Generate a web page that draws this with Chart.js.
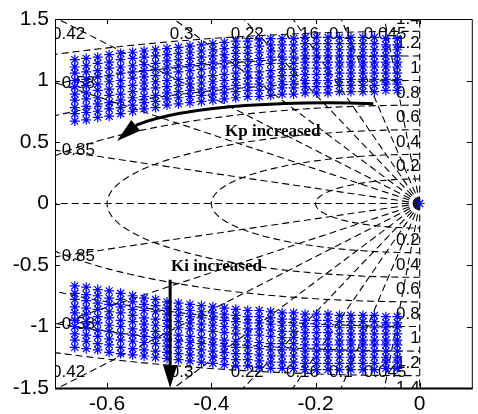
<!DOCTYPE html>
<html>
<head>
<meta charset="utf-8">
<script src="https://cdn.jsdelivr.net/npm/chart.js@4.4.1/dist/chart.umd.min.js"></script>
<style>
  html, body { margin: 0; padding: 0; background: #fff; }
  #c { display: block; }
</style>
</head>
<body>
<canvas id="c" width="478" height="414"></canvas>
<script>
// 闭环极点：每列对应一个 Kp，列内对应不同 Ki（只列上半平面，下半平面取共轭）
const colRe = [-0.662, -0.640, -0.618, -0.596, -0.574, -0.551, -0.529, -0.507, -0.485, -0.463,
               -0.441, -0.419, -0.397, -0.375, -0.353, -0.330, -0.308, -0.286, -0.264, -0.242,
               -0.220, -0.198, -0.176, -0.154, -0.132, -0.109, -0.087, -0.065, -0.043];
const colIm = [
    [0.67, 0.73, 0.78, 0.84, 0.89, 0.95, 1.00, 1.06, 1.11, 1.17],
    [0.68, 0.74, 0.79, 0.85, 0.90, 0.96, 1.01, 1.07, 1.12, 1.18],
    [0.70, 0.75, 0.81, 0.86, 0.92, 0.97, 1.03, 1.08, 1.14, 1.19],
    [0.71, 0.77, 0.82, 0.88, 0.93, 0.99, 1.04, 1.10, 1.15, 1.21],
    [0.73, 0.78, 0.84, 0.89, 0.95, 1.00, 1.06, 1.11, 1.17, 1.22],
    [0.75, 0.80, 0.86, 0.91, 0.96, 1.02, 1.07, 1.12, 1.18, 1.23],
    [0.77, 0.82, 0.87, 0.93, 0.98, 1.03, 1.08, 1.13, 1.19, 1.24],
    [0.78, 0.83, 0.88, 0.94, 0.99, 1.04, 1.09, 1.14, 1.20, 1.25],
    [0.80, 0.85, 0.90, 0.95, 1.00, 1.06, 1.11, 1.16, 1.21, 1.26],
    [0.81, 0.86, 0.91, 0.96, 1.01, 1.07, 1.12, 1.17, 1.22, 1.27],
    [0.82, 0.87, 0.92, 0.97, 1.02, 1.08, 1.13, 1.18, 1.23, 1.28],
    [0.83, 0.88, 0.93, 0.98, 1.03, 1.09, 1.14, 1.19, 1.24, 1.29],
    [0.84, 0.89, 0.94, 0.99, 1.04, 1.10, 1.15, 1.20, 1.25, 1.30],
    [0.85, 0.90, 0.95, 1.00, 1.05, 1.11, 1.16, 1.21, 1.26, 1.31],
    [0.86, 0.91, 0.96, 1.01, 1.06, 1.12, 1.17, 1.22, 1.27, 1.32],
    [0.87, 0.92, 0.97, 1.02, 1.07, 1.12, 1.17, 1.22, 1.27, 1.32],
    [0.87, 0.92, 0.97, 1.02, 1.07, 1.13, 1.18, 1.23, 1.28, 1.33],
    [0.88, 0.93, 0.98, 1.03, 1.08, 1.14, 1.19, 1.24, 1.29, 1.34],
    [0.89, 0.94, 0.99, 1.04, 1.09, 1.14, 1.19, 1.24, 1.29, 1.34],
    [0.89, 0.94, 0.99, 1.04, 1.09, 1.14, 1.19, 1.24, 1.29, 1.34],
    [0.90, 0.95, 1.00, 1.05, 1.10, 1.15, 1.20, 1.25, 1.30, 1.35],
    [0.90, 0.95, 1.00, 1.05, 1.10, 1.15, 1.20, 1.25, 1.30, 1.35],
    [0.90, 0.95, 1.00, 1.05, 1.10, 1.15, 1.20, 1.25, 1.30, 1.35],
    [0.91, 0.96, 1.01, 1.06, 1.11, 1.15, 1.20, 1.25, 1.30, 1.35],
    [0.91, 0.96, 1.01, 1.06, 1.11, 1.15, 1.20, 1.25, 1.30, 1.35],
    [0.91, 0.96, 1.01, 1.06, 1.11, 1.15, 1.20, 1.25, 1.30, 1.35],
    [0.91, 0.96, 1.01, 1.06, 1.11, 1.15, 1.20, 1.25, 1.30, 1.35],
    [0.92, 0.97, 1.01, 1.06, 1.11, 1.15, 1.20, 1.25, 1.29, 1.34],
    [0.92, 0.97, 1.01, 1.06, 1.11, 1.15, 1.20, 1.25, 1.29, 1.34]
];
// 原点处的极点
const poleRe = [0];
const poleIm = [0];

// 坐标轴刻度
const xTicks = [-0.6, -0.4, -0.2, 0];
const yTicks = [-1.5, -1, -0.5, 0, 0.5, 1, 1.5];

// sgrid：阻尼比射线与自然频率圆
const zetaList = [0.045, 0.1, 0.16, 0.22, 0.3, 0.42, 0.58, 0.85];
const wnList = [0.2, 0.4, 0.6, 0.8, 1, 1.2, 1.4];

// 网格标注位置（数据坐标）
const zetaTopLabels = [
    { text: "0.42", x: -0.674 }, { text: "0.3", x: -0.457 }, { text: "0.22", x: -0.331 },
    { text: "0.16", x: -0.225 }, { text: "0.1", x: -0.1515 }, { text: "0.045", x: -0.0664 }
];
const zetaLeftLabels = [{ text: "0.58", y: 0.98 }, { text: "0.85", y: 0.43 }];

// 组装极点
const points = [];
colRe.forEach((re, i) => {
    colIm[i].forEach(im => {
        points.push({ x: re, y: im });
        points.push({ x: re, y: -im });
    });
});
poleRe.forEach((re, i) => points.push({ x: re, y: poleIm[i] }));

// 网格线数据集
const gridStyle = {
    type: 'scatter',
    showLine: true,
    pointRadius: 0,
    borderColor: '#000',
    borderWidth: 1.1,
    borderDash: [7, 4],
    fill: false,
    tension: 0,
    order: 10
};
const gridSets = [];
const R = 3;
zetaList.concat([0, 1]).forEach(z => {
    const s = Math.sqrt(1 - z * z);
    gridSets.push({ ...gridStyle, data: [{ x: 0, y: 0 }, { x: -z * R, y: s * R }] });
    if (z !== 1) gridSets.push({ ...gridStyle, data: [{ x: 0, y: 0 }, { x: -z * R, y: -s * R }] });
});
wnList.forEach(wn => {
    const arc = [];
    for (let a = 90; a <= 270; a += 2) {
        const t = a * Math.PI / 180;
        arc.push({ x: wn * Math.cos(t), y: wn * Math.sin(t) });
    }
    gridSets.push({ ...gridStyle, data: arc });
});

const starSet = {
    type: 'scatter',
    data: points,
    pointStyle: 'star',
    pointRadius: 5,
    borderColor: '#0000ff',
    backgroundColor: 'rgba(0,0,0,0)',
    borderWidth: 1.2,
    showLine: false,
    order: 0
};

const tickFont = { family: "'Liberation Sans', Arial, sans-serif", size: 21, lineHeight: 1.24 };
const labelFont = "17px 'Liberation Sans', Arial, sans-serif";
const noteFont = "bold 17px 'Liberation Serif', 'Times New Roman', serif";

// 箭头与文字标注（数据坐标）
const kpArrow = [[-0.089, 0.812], [-0.237, 0.836], [-0.445, 0.804], [-0.545, 0.636]];
const kpTip = [-0.581, 0.508];
const kiArrow = { x: -0.479, y0: -0.62, y1: -1.316, tip: -1.5 };

const framePlugin = {
    id: 'frame',
    beforeDatasetDraw(chart, args) {
        if (chart.data.datasets[args.index] !== starSet) return;
        const { ctx, chartArea: a, scales: { x, y } } = chart;
        ctx.save();
        ctx.beginPath();
        ctx.rect(a.left, a.top, a.right - a.left, a.bottom - a.top);
        ctx.clip();
        ctx.fillStyle = '#000';
        ctx.font = labelFont;
        ctx.textBaseline = 'middle';
        ctx.textAlign = 'center';
        zetaTopLabels.forEach(l => {
            ctx.fillText(l.text, x.getPixelForValue(l.x), y.getPixelForValue(1.376));
            ctx.fillText(l.text, x.getPixelForValue(l.x), y.getPixelForValue(-1.37));
        });
        ctx.textAlign = 'left';
        zetaLeftLabels.forEach(l => {
            ctx.fillText(l.text, x.getPixelForValue(-0.687), y.getPixelForValue(l.y));
            ctx.fillText(l.text, x.getPixelForValue(-0.687), y.getPixelForValue(-l.y));
        });
        ctx.textAlign = 'right';
        wnList.forEach(wn => {
            const t = String(wn);
            ctx.fillText(t, x.getPixelForValue(0), y.getPixelForValue(wn + 0.1));
            ctx.fillText(t, x.getPixelForValue(0), y.getPixelForValue(-wn - 0.1));
        });
        ctx.restore();
    },
    afterDatasetsDraw(chart) {
        const { ctx, chartArea: a, scales: { x, y } } = chart;
        const px = v => x.getPixelForValue(v);
        const py = v => y.getPixelForValue(v);
        ctx.save();
        // 边框与内向刻度
        ctx.strokeStyle = '#000';
        ctx.lineWidth = 1;
        ctx.beginPath();
        ctx.moveTo(a.left + 0.5, a.bottom);
        ctx.lineTo(a.left + 0.5, a.top + 0.5);
        ctx.lineTo(a.right + 0.5, a.top + 0.5);
        ctx.lineTo(a.right + 0.5, a.bottom);
        ctx.stroke();
        ctx.lineWidth = 2;
        ctx.beginPath();
        ctx.moveTo(a.left, a.bottom + 0.5);
        ctx.lineTo(a.right + 1, a.bottom + 0.5);
        ctx.stroke();
        ctx.lineWidth = 1;
        ctx.beginPath();
        xTicks.forEach(v => {
            const p = Math.round(px(v)) + 0.5;
            ctx.moveTo(p, a.bottom); ctx.lineTo(p, a.bottom - 5);
            ctx.moveTo(p, a.top); ctx.lineTo(p, a.top + 5);
        });
        yTicks.forEach(v => {
            const p = Math.round(py(v)) + 0.5;
            ctx.moveTo(a.left, p); ctx.lineTo(a.left + 5, p);
            ctx.moveTo(a.right, p); ctx.lineTo(a.right - 5, p);
        });
        ctx.stroke();

        // Kp 箭头（曲线）
        ctx.strokeStyle = '#000';
        ctx.fillStyle = '#000';
        ctx.lineWidth = 3;
        ctx.beginPath();
        ctx.moveTo(px(kpArrow[0][0]), py(kpArrow[0][1]));
        ctx.bezierCurveTo(px(kpArrow[1][0]), py(kpArrow[1][1]),
                          px(kpArrow[2][0]), py(kpArrow[2][1]),
                          px(kpArrow[3][0]), py(kpArrow[3][1]));
        ctx.stroke();
        drawHead(ctx, px(kpArrow[3][0]), py(kpArrow[3][1]), px(kpTip[0]), py(kpTip[1]), 7);

        // Ki 箭头（竖直）
        ctx.beginPath();
        ctx.moveTo(px(kiArrow.x), py(kiArrow.y0));
        ctx.lineTo(px(kiArrow.x), py(kiArrow.y1));
        ctx.stroke();
        drawHead(ctx, px(kiArrow.x), py(kiArrow.y1), px(kiArrow.x), py(kiArrow.tip), 7);

        ctx.font = noteFont;
        ctx.textAlign = 'center';
        ctx.textBaseline = 'middle';
        ctx.fillText('Kp increased', px(-0.282), py(0.588));
        ctx.fillText('Ki increased', px(-0.39), py(-0.516));
        ctx.restore();
    }
};

function drawHead(ctx, bx, by, tx, ty, hw) {
    const dx = tx - bx, dy = ty - by;
    const len = Math.hypot(dx, dy);
    const nx = -dy / len, ny = dx / len;
    ctx.beginPath();
    ctx.moveTo(tx, ty);
    ctx.lineTo(bx + nx * hw, by + ny * hw);
    ctx.lineTo(bx - nx * hw, by - ny * hw);
    ctx.closePath();
    ctx.fill();
}

const ctx = document.getElementById('c').getContext('2d');
new Chart(ctx, {
    type: 'scatter',
    data: { datasets: gridSets.concat([starSet]) },
    options: {
        responsive: false,
        animation: false,
        devicePixelRatio: 1,
        layout: { padding: { top: 0, left: 0, right: 0, bottom: 0 } },
        plugins: { legend: { display: false }, tooltip: { enabled: false } },
        scales: {
            x: {
                type: 'linear',
                min: -0.7,
                max: 0.1,
                afterBuildTicks: s => { s.ticks = xTicks.map(v => ({ value: v })); },
                afterFit: s => { s.height = 26; },
                grid: { display: false, drawTicks: false },
                border: { display: false },
                ticks: { color: '#000', font: tickFont, padding: 3, maxRotation: 0, autoSkip: false,
                         callback: v => String(v) }
            },
            y: {
                type: 'linear',
                min: -1.5,
                max: 1.5,
                afterBuildTicks: s => { s.ticks = yTicks.map(v => ({ value: v })); },
                afterFit: s => { s.width = 55; },
                grid: { display: false, drawTicks: false },
                border: { display: false },
                ticks: { color: '#000', font: tickFont, padding: 6, autoSkip: false,
                         callback: v => String(v) }
            }
        }
    },
    plugins: [framePlugin]
});
</script>
</body>
</html>
